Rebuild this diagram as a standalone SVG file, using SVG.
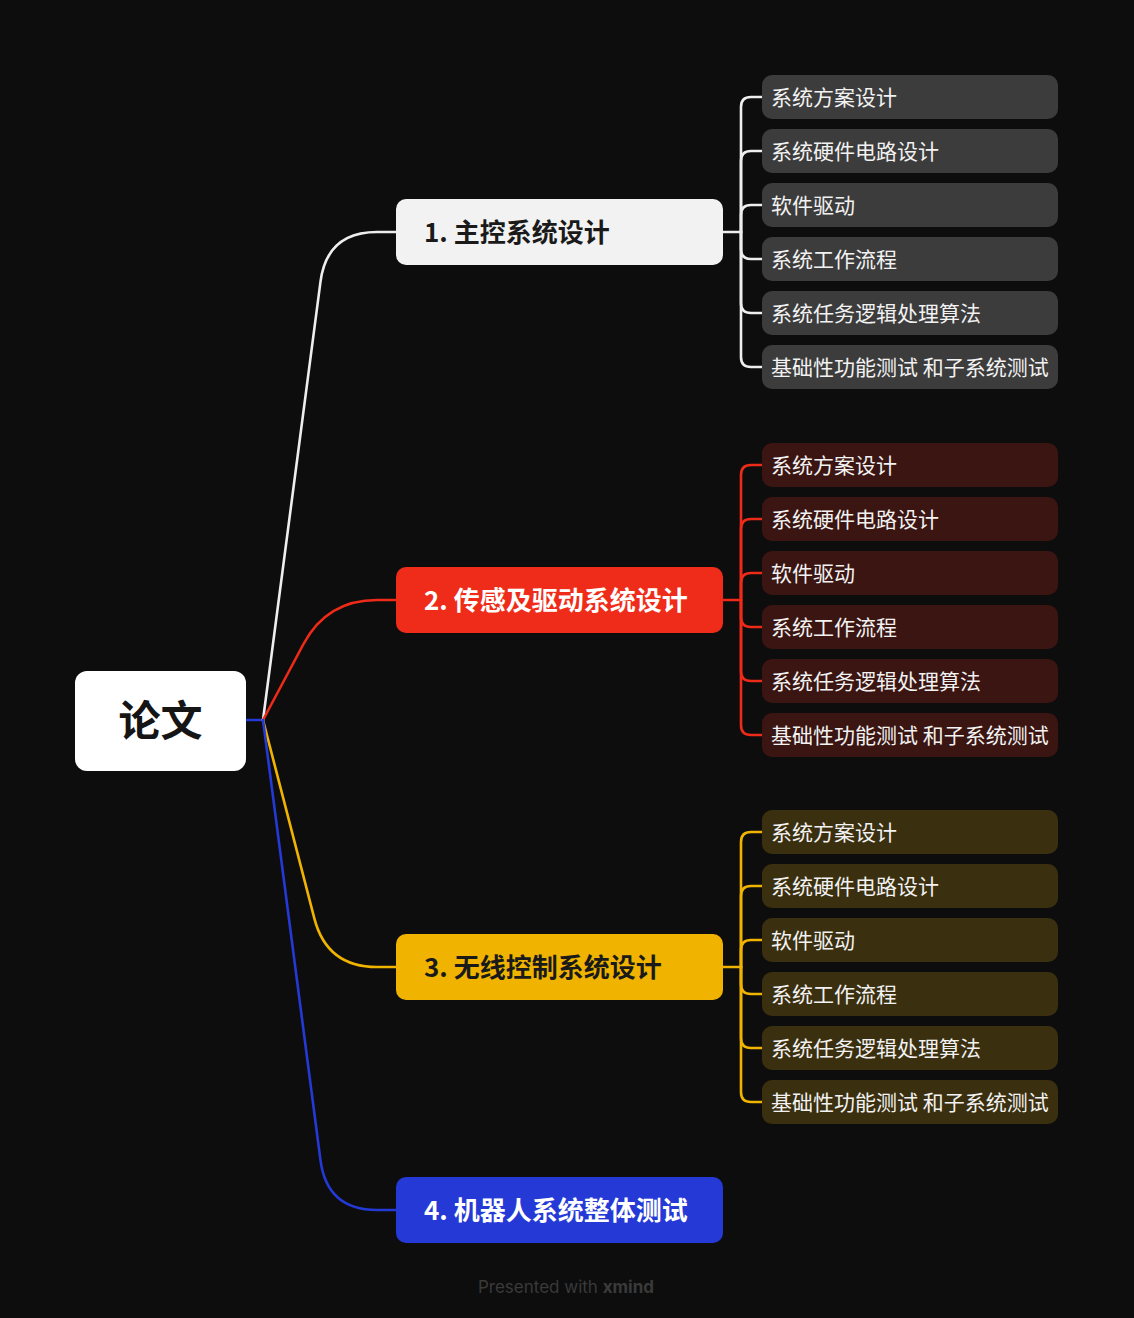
<svg xmlns="http://www.w3.org/2000/svg" width="1134" height="1318" viewBox="0 0 1134 1318">
<style>
text{font-family:"Noto Sans CJK SC","Noto Sans",sans-serif}
.leaf{font-size:21px;fill:#f2f2f2}
.br{font-size:26px;font-weight:700}
.c{fill:none;stroke-width:2.6;stroke-linecap:round;stroke-linejoin:round}
.w{stroke:#eeeeee}.r{stroke:#ee2a18}.y{stroke:#f0b400}.b{stroke:#2439d6}
.l1{fill:#3c3c3c}.l2{fill:#3a1511}.l3{fill:#3a2f0e}
</style>
<rect width="1134" height="1318" fill="#0d0d0d"/>
<g id="connectors">
<path class="c b" d="M246 720 H263"/>
<path class="c w" d="M263 720 L320.5 281.6 Q327 232 377 232 H396"/>
<path class="c r" d="M263 720 L303.5 644 Q327 600 377 600 H396"/>
<path class="c y" d="M263 720 L314.4 918.6 Q327 967 377 967 H396"/>
<path class="c b" d="M263 720 L320.5 1160.4 Q327 1210 377 1210 H396"/>
<g class="c w">
<path d="M723 232 H741"/>
<path d="M741 232 V107 Q741 97 751 97 H762"/>
<path d="M741 232 V161 Q741 151 751 151 H762"/>
<path d="M741 232 V215 Q741 205 751 205 H762"/>
<path d="M741 232 V249 Q741 259 751 259 H762"/>
<path d="M741 232 V303 Q741 313 751 313 H762"/>
<path d="M741 232 V357 Q741 367 751 367 H762"/>
</g>
<g class="c r">
<path d="M723 600 H741"/>
<path d="M741 600 V475 Q741 465 751 465 H762"/>
<path d="M741 600 V529 Q741 519 751 519 H762"/>
<path d="M741 600 V583 Q741 573 751 573 H762"/>
<path d="M741 600 V617 Q741 627 751 627 H762"/>
<path d="M741 600 V671 Q741 681 751 681 H762"/>
<path d="M741 600 V725 Q741 735 751 735 H762"/>
</g>
<g class="c y">
<path d="M723 967 H741"/>
<path d="M741 967 V842 Q741 832 751 832 H762"/>
<path d="M741 967 V896 Q741 886 751 886 H762"/>
<path d="M741 967 V950 Q741 940 751 940 H762"/>
<path d="M741 967 V984 Q741 994 751 994 H762"/>
<path d="M741 967 V1038 Q741 1048 751 1048 H762"/>
<path d="M741 967 V1092 Q741 1102 751 1102 H762"/>
</g>
</g>
<g id="root">
<rect x="75" y="671" width="171" height="100" rx="12" fill="#ffffff"/>
<text x="160.5" y="736" text-anchor="middle" font-size="42" font-weight="700" fill="#151515">论文</text>
</g>
<g id="b1">
<rect x="396" y="199" width="327" height="66" rx="10" fill="#f2f2f2"/>
<text class="br" x="424" y="242" fill="#1a1a1a">1. 主控系统设计</text>
</g>
<g id="b2">
<rect x="396" y="567" width="327" height="66" rx="10" fill="#ef2b19"/>
<text class="br" x="424" y="610" fill="#ffffff">2. 传感及驱动系统设计</text>
</g>
<g id="b3">
<rect x="396" y="934" width="327" height="66" rx="10" fill="#f0b400"/>
<text class="br" x="424" y="977" fill="#1a1a1a">3. 无线控制系统设计</text>
</g>
<g id="b4">
<rect x="396" y="1177" width="327" height="66" rx="10" fill="#2439d6"/>
<text class="br" x="424" y="1220" fill="#ffffff">4. 机器人系统整体测试</text>
</g>
<g id="g1">
<g id="l1a"><rect class="l1" x="762" y="75" width="296" height="44" rx="10"/><text class="leaf" x="771" y="105">系统方案设计</text></g>
<g id="l1b"><rect class="l1" x="762" y="129" width="296" height="44" rx="10"/><text class="leaf" x="771" y="159">系统硬件电路设计</text></g>
<g id="l1c"><rect class="l1" x="762" y="183" width="296" height="44" rx="10"/><text class="leaf" x="771" y="213">软件驱动</text></g>
<g id="l1d"><rect class="l1" x="762" y="237" width="296" height="44" rx="10"/><text class="leaf" x="771" y="267">系统工作流程</text></g>
<g id="l1e"><rect class="l1" x="762" y="291" width="296" height="44" rx="10"/><text class="leaf" x="771" y="321">系统任务逻辑处理算法</text></g>
<g id="l1f"><rect class="l1" x="762" y="345" width="296" height="44" rx="10"/><text class="leaf" x="771" y="375">基础性功能测试 和子系统测试</text></g>
</g>
<g id="g2">
<g id="l2a"><rect class="l2" x="762" y="443" width="296" height="44" rx="10"/><text class="leaf" x="771" y="473">系统方案设计</text></g>
<g id="l2b"><rect class="l2" x="762" y="497" width="296" height="44" rx="10"/><text class="leaf" x="771" y="527">系统硬件电路设计</text></g>
<g id="l2c"><rect class="l2" x="762" y="551" width="296" height="44" rx="10"/><text class="leaf" x="771" y="581">软件驱动</text></g>
<g id="l2d"><rect class="l2" x="762" y="605" width="296" height="44" rx="10"/><text class="leaf" x="771" y="635">系统工作流程</text></g>
<g id="l2e"><rect class="l2" x="762" y="659" width="296" height="44" rx="10"/><text class="leaf" x="771" y="689">系统任务逻辑处理算法</text></g>
<g id="l2f"><rect class="l2" x="762" y="713" width="296" height="44" rx="10"/><text class="leaf" x="771" y="743">基础性功能测试 和子系统测试</text></g>
</g>
<g id="g3">
<g id="l3a"><rect class="l3" x="762" y="810" width="296" height="44" rx="10"/><text class="leaf" x="771" y="840">系统方案设计</text></g>
<g id="l3b"><rect class="l3" x="762" y="864" width="296" height="44" rx="10"/><text class="leaf" x="771" y="894">系统硬件电路设计</text></g>
<g id="l3c"><rect class="l3" x="762" y="918" width="296" height="44" rx="10"/><text class="leaf" x="771" y="948">软件驱动</text></g>
<g id="l3d"><rect class="l3" x="762" y="972" width="296" height="44" rx="10"/><text class="leaf" x="771" y="1002">系统工作流程</text></g>
<g id="l3e"><rect class="l3" x="762" y="1026" width="296" height="44" rx="10"/><text class="leaf" x="771" y="1056">系统任务逻辑处理算法</text></g>
<g id="l3f"><rect class="l3" x="762" y="1080" width="296" height="44" rx="10"/><text class="leaf" x="771" y="1110">基础性功能测试 和子系统测试</text></g>
</g>
<text x="566" y="1293" text-anchor="middle" font-size="17" fill="#3a3a3a" style="font-family:Inter,'Noto Sans',sans-serif">Presented with <tspan font-weight="700">xmind</tspan></text>
</svg>
